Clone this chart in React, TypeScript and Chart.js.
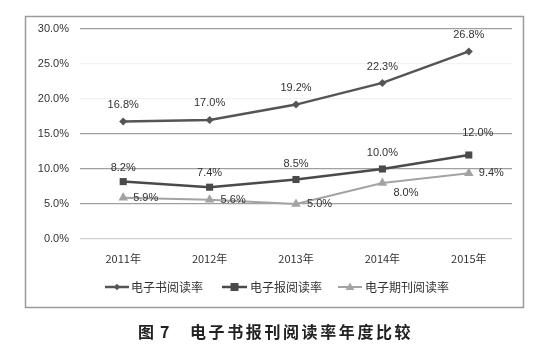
import React, { useEffect, useRef } from "react";
import { Chart, registerables } from "chart.js";

Chart.register(...registerables);

const categories = ["2011年", "2012年", "2013年", "2014年", "2015年"];
const seriesNames = ["电子书阅读率", "电子报阅读率", "电子期刊阅读率"];
const ebookRate = [16.8, 17.0, 19.2, 22.3, 26.8];
const newspaperRate = [8.2, 7.4, 8.5, 10.0, 12.0];
const periodicalRate = [5.9, 5.6, 5.0, 8.0, 9.4];
const yTicks = [0, 5, 10, 15, 20, 25, 30];
const captionFig = "图 7";
const captionText = "电子书报刊阅读率年度比较";

// label placement styles: [dx, dy, align]
const labelStyles: [number, number, CanvasTextAlign][][] = [
  [[0, -16, "center"], [0, -17, "center"], [0, -17, "center"], [0, -16, "center"], [0, -16, "center"]],
  [[0, -14, "center"], [0, -14, "center"], [0, -16, "center"], [0, -16, "center"], [9, -22, "center"]],
  [[10, 0, "left"], [11, 0, "left"], [11, 0, "left"], [11, 10, "left"], [10, 0, "left"]],
];

const colors = ["#555555", "#4a4a4a", "#a3a3a3"];
const pointStyles = ["rectRot", "rect", "triangle"];
const pointRadii = [4, 5, 5.5];

const CJK = '"Noto Sans CJK SC", "Noto Sans", sans-serif';
const LAT = '"Liberation Sans", "DejaVu Sans", sans-serif';

const decorPlugin = {
  id: "decor",
  afterDatasetsDraw(chart: any) {
    const ctx = chart.ctx as CanvasRenderingContext2D;
    ctx.save();
    // data labels
    ctx.font = `11px ${LAT}`;
    ctx.fillStyle = "#333333";
    ctx.textBaseline = "middle";
    chart.data.datasets.forEach((ds: any, di: number) => {
      const meta = chart.getDatasetMeta(di);
      meta.data.forEach((pt: any, i: number) => {
        const [dx, dy, align] = labelStyles[di][i];
        ctx.textAlign = align;
        ctx.fillText(ds.data[i].toFixed(1) + "%", pt.x + dx, pt.y + dy);
      });
    });
    ctx.restore();
  },
  afterDraw(chart: any) {
    const ctx = chart.ctx as CanvasRenderingContext2D;
    ctx.save();
    // border box
    ctx.strokeStyle = "#9a9a9a";
    ctx.lineWidth = 1.5;
    ctx.strokeRect(25.5, 16.5, 498, 291);

    // legend
    const legendY = 287;
    const items = [
      { x0: 105, x1: 129, tx: 131 },
      { x0: 222, x1: 247, tx: 250 },
      { x0: 338, x1: 362, tx: 365 },
    ];
    items.forEach((it, i) => {
      const ds = chart.data.datasets[i];
      ctx.strokeStyle = ds.borderColor;
      ctx.lineWidth = ds.borderWidth;
      ctx.beginPath();
      ctx.moveTo(it.x0, legendY);
      ctx.lineTo(it.x1, legendY);
      ctx.stroke();
      const mx = (it.x0 + it.x1) / 2;
      ctx.fillStyle = ds.borderColor;
      (Chart as any).helpers?.drawPoint
        ? null
        : null;
      drawMarker(ctx, pointStyles[i], pointRadii[i] * 0.8, mx, legendY);
      ctx.fillStyle = "#333333";
      ctx.font = `12px ${CJK}`;
      ctx.textAlign = "left";
      ctx.textBaseline = "middle";
      ctx.fillText(seriesNames[i], it.tx, legendY);
    });

    // caption
    ctx.fillStyle = "#222222";
    ctx.font = `bold 16px ${CJK}`;
    ctx.textBaseline = "middle";
    ctx.textAlign = "left";
    const cy = 332;
    ctx.fillText(captionFig[0], 138, cy);
    ctx.fillText(captionFig.slice(2), 160, cy);
    const chars = Array.from(captionText);
    chars.forEach((c, i) => {
      ctx.fillText(c, 190 + i * 18.6, cy);
    });
    ctx.restore();
  },
};

function drawMarker(ctx: CanvasRenderingContext2D, style: string, r: number, x: number, y: number) {
  ctx.beginPath();
  if (style === "rectRot") {
    ctx.moveTo(x, y - r);
    ctx.lineTo(x + r, y);
    ctx.lineTo(x, y + r);
    ctx.lineTo(x - r, y);
  } else if (style === "rect") {
    ctx.rect(x - r, y - r, 2 * r, 2 * r);
  } else {
    ctx.moveTo(x, y - r);
    ctx.lineTo(x + r, y + r * 0.7);
    ctx.lineTo(x - r, y + r * 0.7);
  }
  ctx.closePath();
  ctx.fill();
}

export default function App() {
  const ref = useRef<HTMLCanvasElement>(null);
  useEffect(() => {
    if (!ref.current) return;
    const series = [ebookRate, newspaperRate, periodicalRate];
    const chart = new Chart(ref.current, {
      type: "line",
      data: {
        labels: categories,
        datasets: series.map((d, i) => ({
          label: seriesNames[i],
          data: d,
          borderColor: colors[i],
          backgroundColor: colors[i],
          borderWidth: i === 2 ? 2 : 2.5,
          pointStyle: pointStyles[i] as any,
          pointRadius: pointRadii[i],
          pointBorderWidth: 0,
          pointBackgroundColor: colors[i],
          tension: 0,
          fill: false,
        })),
      },
      options: {
        responsive: false,
        animation: false,
        devicePixelRatio: 1,
        layout: { padding: { left: 25, right: 38, top: 29, bottom: 86 } },
        plugins: {
          legend: { display: false },
          tooltip: { enabled: false },
        },
        scales: {
          x: {
            offset: true,
            grid: { display: false, drawTicks: false },
            border: { display: false },
            ticks: {
              padding: 13,
              color: "#333333",
              font: { family: CJK, size: 11 },
            },
            afterFit: (s: any) => {
              s.height = 30;
            },
          },
          y: {
            min: yTicks[0],
            max: yTicks[yTicks.length - 1],
            afterBuildTicks: (s: any) => {
              s.ticks = yTicks.map((v) => ({ value: v }));
            },
            grid: {
              drawTicks: false,
              lineWidth: 1.2,
              color: (c: any) => {
                const v = c.tick?.value;
                if (v === 0) return "#d0d0d0";
                if (v === 20 || v === 25) return "#f2f2f2";
                return "#a0a0a0";
              },
            },
            border: { display: false },
            ticks: {
              padding: 11,
              color: "#333333",
              font: { family: LAT, size: 11 },
              callback: (v: any) => Number(v).toFixed(1) + "%",
            },
            afterFit: (s: any) => {
              s.width = 55;
            },
          },
        },
      },
      plugins: [decorPlugin],
    });
    return () => chart.destroy();
  }, []);
  return (
    <div style={{ position: "fixed", left: 0, top: 0, width: 550, height: 355, background: "#ffffff" }}>
      <canvas ref={ref} width={550} height={355} />
    </div>
  );
}
